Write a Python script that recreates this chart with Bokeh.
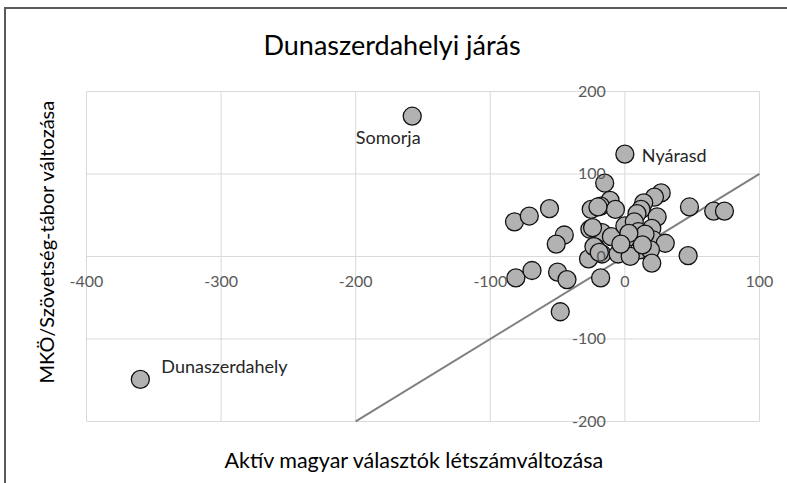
from bokeh.plotting import figure
from bokeh.models import Range1d, FixedTicker, Title, ColumnDataSource, LinearAxis, CustomJSTickFormatter
from bokeh.core.properties import value
from bokeh.embed import file_html
from bokeh.resources import INLINE

# ---- data ----
x_ticks = [-400, -300, -200, -100, 0, 100]
y_ticks = [-200, -100, 0, 100, 200]

x_vals = [-158, 0, -360,
          -15, -11, -18, -25, -7, 27, 22, 14, 12, 9, 24, 48, 66, 74,
          -26, -17, -10, 0, 7, 20, 7, 10, 21, 30, -22, -17, -5, 11, 19,
          -27, 4, 20, 47, -18, -82, -71, -56, -45, -51, -81, -69, -50,
          -43, -48, -24, -20, -23, -19, 15, 13, 3, -3]
y_vals = [170, 124, -149,
          89, 68, 61, 57, 57, 77, 72, 65, 57, 52, 48, 60, 55, 55,
          33, 29, 24, 37, 42, 34, 23, 30, 20, 16, 11, 3, 3, 8, 8,
          -3, 0, -8, 1, -26, 42, 49, 58, 26, 15, -26, -17, -19,
          -28, -67, 35, 60, 12, 5, 27, 14, 28, 15]

label_names = ["Somorja", "Nyárasd", "Dunaszerdahely"]
label_x = [-158, 0, -360]
label_y = [170, 124, -149]

trend_x = [-200, 100]
trend_y = [-200, 100]

FONT = "Lato"
TICK_COLOR = "#595959"
TEXT_COLOR = "#262626"

XMIN, XMAX = x_ticks[0], x_ticks[-1]
YMIN, YMAX = y_ticks[0], y_ticks[-1]

p = figure(width=787, height=483, output_backend="svg", toolbar_location=None,
           x_range=Range1d(-417.1, 114.9), y_range=Range1d(-226.7, 233.9),
           min_border_left=63, min_border_right=8, min_border_top=63,
           min_border_bottom=40, x_axis_location=None, y_axis_location=None)
p.outline_line_color = None
p.background_fill_color = "white"
p.border_fill_color = "white"
p.border_fill_alpha = 0
# chart-area frame (top and left edges visible in the original crop)
p.styles = {"background": ("linear-gradient(#5a5a5a,#5a5a5a) 4px 7px / 783px 2px no-repeat, "
                           "linear-gradient(#5a5a5a,#5a5a5a) 4px 7px / 2px 476px no-repeat, white")}
p.xgrid.visible = False
p.ygrid.visible = False

fmt = CustomJSTickFormatter(code="return tick.toString();")
xax = LinearAxis(ticker=FixedTicker(ticks=x_ticks), fixed_location=0, formatter=fmt)
yax = LinearAxis(ticker=FixedTicker(ticks=y_ticks), fixed_location=0, formatter=fmt)
for ax in (xax, yax):
    ax.axis_line_color = None
    ax.major_tick_line_color = None
    ax.minor_tick_line_color = None
    ax.major_label_text_color = TICK_COLOR
    ax.major_label_text_font = FONT
    ax.major_label_text_font_size = "16px"
xax.major_label_standoff = 14
yax.major_label_standoff = 13
p.add_layout(xax, "below")
p.add_layout(yax, "left")

p.segment(x0=x_ticks, x1=x_ticks, y0=[YMIN] * len(x_ticks), y1=[YMAX] * len(x_ticks),
          line_color="#d9d9d9", line_width=1)
p.segment(x0=[XMIN] * len(y_ticks), x1=[XMAX] * len(y_ticks), y0=y_ticks, y1=y_ticks,
          line_color="#d9d9d9", line_width=1)

p.add_layout(Title(text="Dunaszerdahelyi járás", text_font=FONT, text_font_size="27px",
                   text_font_style="normal", text_color="#000000", align="left",
                   offset=200, standoff=5), "above")
p.add_layout(Title(text="Aktív magyar választók létszámváltozása", text_font=FONT,
                   text_font_size="21.5px", text_font_style="normal", text_color="#000000",
                   align="left", offset=161, standoff=2), "below")
p.add_layout(Title(text="MKÖ/Szövetség-tábor változása", text_font=FONT,
                   text_font_size="20px", text_font_style="normal", text_color="#000000",
                   align="left", offset=60, standoff=11), "left")

p.line(trend_x, trend_y, line_color="#808080", line_width=2)

src = ColumnDataSource(dict(x=x_vals, y=y_vals))
p.scatter("x", "y", source=src, size=18, fill_color="#b2b2b2",
          line_color="#111111", line_width=1.3)

lab = ColumnDataSource(dict(x=label_x, y=label_y, t=label_names,
                            xo=[-24, 17, 21], yo=[21, 1, -13],
                            al=["center", "left", "left"]))
p.text("x", "y", text="t", source=lab, x_offset="xo", y_offset="yo",
       text_align="al", text_baseline="middle", text_font=value(FONT),
       text_font_size="18px", text_color=TEXT_COLOR)

open("out.html", "w").write(file_html(p, INLINE))
